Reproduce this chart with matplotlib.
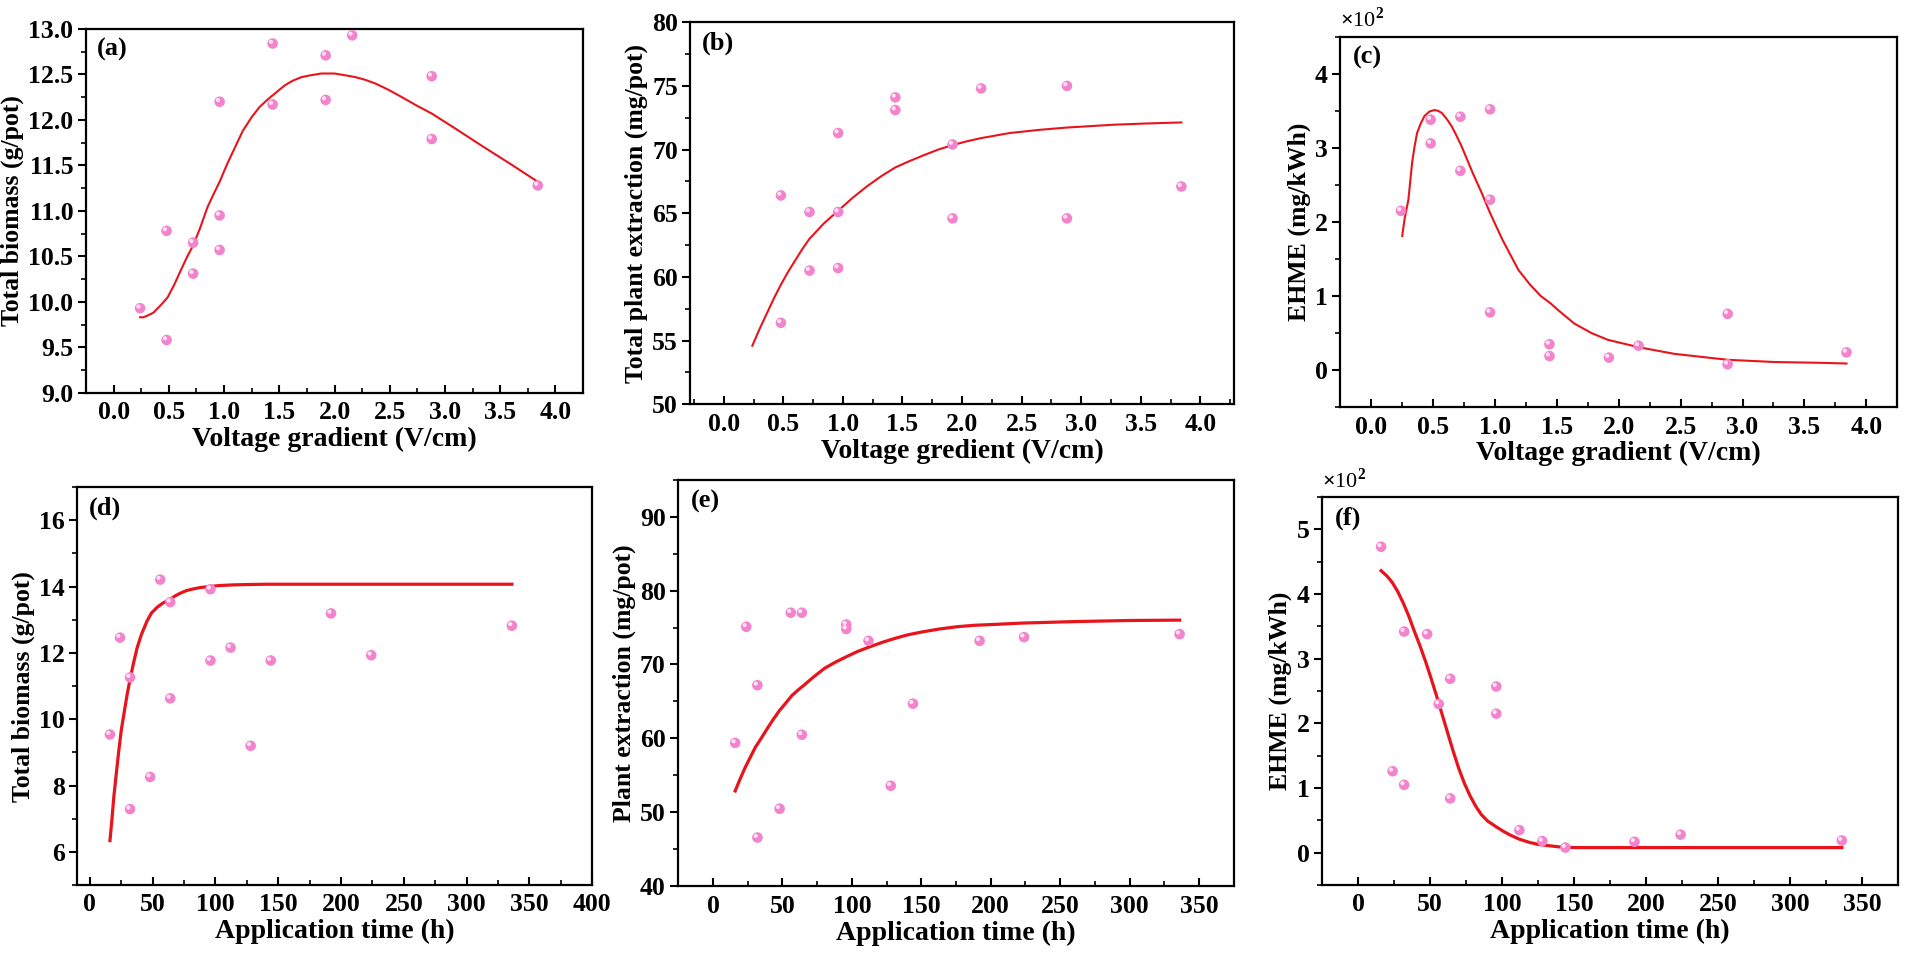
import numpy as np
import matplotlib
matplotlib.use("Agg")
import matplotlib.pyplot as plt
from matplotlib.ticker import MultipleLocator, FormatStrFormatter
from matplotlib.transforms import offset_copy

plt.rcParams['font.family'] = ['Liberation Serif', 'DejaVu Serif']
plt.rcParams['font.weight'] = 'bold'
plt.rcParams['mathtext.fontset'] = 'custom'
plt.rcParams['mathtext.rm'] = 'Liberation Serif'

# ---- (a) voltage gradient vs total biomass
a_x = [0.24, 0.48, 0.48, 0.72, 0.72, 0.96, 0.96, 0.96, 1.44, 1.44, 1.92, 1.92, 2.16, 2.88, 2.88, 3.84]
a_y = [9.93, 10.78, 9.58, 10.65, 10.31, 12.20, 10.95, 10.57, 12.84, 12.17, 12.71, 12.22, 12.93, 12.48, 11.79, 11.28]
a_fit_x = [0.24, 0.27, 0.31, 0.36, 0.40, 0.44, 0.49, 0.55, 0.61, 0.66, 0.72, 0.78, 0.85, 0.90, 0.96, 1.03,
           1.10, 1.17, 1.25, 1.32, 1.40, 1.47, 1.55, 1.62, 1.70, 1.78, 1.88, 2.00, 2.10, 2.19, 2.28,
           2.37, 2.49, 2.61, 2.74, 2.88, 3.10, 3.34, 3.60, 3.84]
a_fit_y = [9.83, 9.83, 9.85, 9.88, 9.93, 9.98, 10.05, 10.19, 10.35, 10.48, 10.62, 10.80, 11.04, 11.17, 11.32, 11.52,
           11.70, 11.88, 12.03, 12.14, 12.23, 12.30, 12.38, 12.43, 12.47, 12.49, 12.51, 12.51, 12.49, 12.47, 12.44,
           12.40, 12.33, 12.25, 12.16, 12.07, 11.90, 11.71, 11.51, 11.32]

# ---- (b) voltage gradient vs total plant extraction
b_x = [0.48, 0.48, 0.72, 0.72, 0.96, 0.96, 0.96, 1.44, 1.44, 1.92, 1.92, 2.16, 2.88, 2.88, 3.84]
b_y = [66.4, 56.4, 65.1, 60.5, 71.3, 65.1, 60.7, 74.1, 73.1, 70.4, 64.6, 74.8, 75.0, 64.6, 67.1]
b_fit_x = [0.24, 0.30, 0.36, 0.42, 0.48, 0.54, 0.60, 0.66, 0.72, 0.84, 0.96, 1.08, 1.20, 1.32, 1.44, 1.56,
           1.69, 1.80, 1.92, 2.04, 2.16, 2.28, 2.40, 2.65, 2.88, 3.27, 3.55, 3.84]
b_fit_y = [54.6, 55.9, 57.1, 58.3, 59.4, 60.4, 61.3, 62.2, 63.0, 64.2, 65.2, 66.2, 67.1, 67.9, 68.6, 69.1,
           69.6, 70.0, 70.35, 70.65, 70.9, 71.1, 71.3, 71.55, 71.73, 71.95, 72.05, 72.13]

# ---- (c) voltage gradient vs EHME (x10^2 mg/kWh)
c_x = [0.24, 0.48, 0.48, 0.72, 0.72, 0.96, 0.96, 0.96, 1.44, 1.44, 1.92, 2.16, 2.88, 2.88, 3.84]
c_y = [2.15, 3.38, 3.06, 3.42, 2.69, 3.52, 2.30, 0.78, 0.35, 0.19, 0.17, 0.33, 0.76, 0.08, 0.24]
c_fit_x = [0.25, 0.27, 0.30, 0.33, 0.35, 0.37, 0.40, 0.43, 0.47, 0.51, 0.54, 0.57, 0.61, 0.65, 0.69, 0.73,
           0.77, 0.82, 0.89, 0.96, 1.01, 1.06, 1.12, 1.19, 1.28, 1.37, 1.45, 1.51, 1.64, 1.78, 1.91, 2.16,
           2.45, 2.88, 3.26, 3.61, 3.84]
c_fit_y = [1.81, 2.05, 2.30, 2.80, 3.02, 3.20, 3.33, 3.43, 3.49, 3.51, 3.50, 3.47, 3.39, 3.29, 3.16, 3.02,
           2.86, 2.66, 2.40, 2.12, 1.94, 1.76, 1.57, 1.35, 1.16, 1.00, 0.90, 0.81, 0.63, 0.50, 0.41, 0.31,
           0.22, 0.14, 0.11, 0.10, 0.09]

# ---- (d) application time vs total biomass
d_x = [16, 24, 32, 32, 48, 56, 64, 64, 96, 96, 112, 128, 144, 192, 224, 336]
d_y = [9.54, 12.46, 11.26, 7.29, 8.26, 14.21, 13.53, 10.63, 13.92, 11.77, 12.16, 9.20, 11.77, 13.19, 11.93, 12.82]
d_fit_x = [16, 17.5, 19, 21, 23, 25, 27.5, 29.7, 32.3, 34.8, 37.6, 41, 45.5, 49, 53.4, 58, 63.5, 68,
           72, 77, 82.5, 88, 95, 103, 114, 125, 141, 200, 336]
d_fit_y = [6.34, 6.95, 7.63, 8.35, 9.04, 9.67, 10.25, 10.75, 11.26, 11.70, 12.15, 12.55, 12.96, 13.20,
           13.37, 13.50, 13.60, 13.72, 13.80, 13.88, 13.93, 13.97, 14.00, 14.03, 14.05, 14.06, 14.07, 14.07, 14.07]

# ---- (e) application time vs plant extraction
e_x = [16, 24, 32, 32, 48, 56, 64, 64, 96, 96, 112, 128, 144, 192, 224, 336]
e_y = [59.4, 75.1, 67.2, 46.6, 50.5, 77.0, 77.0, 60.5, 75.4, 74.8, 73.2, 53.6, 64.7, 73.2, 73.7, 74.1]
e_fit_x = [16, 19.5, 23, 27, 30.5, 35, 39.3, 43.5, 48, 52.5, 56.8, 61, 65.5, 73, 80.5, 88, 95.5, 104,
           113, 122, 130.5, 140, 150.5, 163, 175.5, 188, 200.5, 222.5, 260, 300, 336]
e_fit_y = [52.9, 54.5, 56.0, 57.5, 58.8, 60.1, 61.4, 62.6, 63.8, 64.8, 65.8, 66.5, 67.2, 68.4, 69.5, 70.3,
           71.0, 71.75, 72.4, 73.0, 73.5, 74.0, 74.4, 74.8, 75.1, 75.3, 75.4, 75.6, 75.8, 75.95, 76.0]

# ---- (f) application time vs EHME (x10^2 mg/kWh)
f_x = [16, 24, 32, 32, 48, 56, 64, 64, 96, 96, 112, 128, 144, 192, 224, 336]
f_y = [4.73, 1.26, 3.42, 1.05, 3.38, 2.30, 2.69, 0.84, 2.57, 2.15, 0.35, 0.18, 0.08, 0.17, 0.28, 0.19]
f_fit_x = [16, 20, 23.7, 27.5, 31.4, 35.2, 39, 43, 47, 50.8, 54.6, 58.5, 62.4, 66.2, 70, 73.9, 77.8,
           81.7, 85.6, 90, 96, 101, 106, 112, 119, 125, 132, 140, 150, 200, 336]
f_fit_y = [4.36, 4.28, 4.18, 4.04, 3.86, 3.66, 3.43, 3.20, 2.95, 2.69, 2.42, 2.13, 1.84, 1.56, 1.30, 1.07, 0.88,
           0.72, 0.59, 0.49, 0.40, 0.33, 0.27, 0.21, 0.16, 0.13, 0.11, 0.09, 0.08, 0.08, 0.08]

panels = [
    dict(pos=[0.0447, 0.593, 0.2585, 0.377], x=a_x, y=a_y, fx=a_fit_x, fy=a_fit_y, lw=1.5,
         xlim=(-0.25, 4.25), ylim=(9.0, 13.0), xmaj=0.5, ymaj=0.5, xfmt='%.1f', yfmt='%.1f',
         xlabel='Voltage gradient (V/cm)', ylabel='Total biomass (g/pot)', tag='(a)', scale=False),
    dict(pos=[0.359, 0.581, 0.2826, 0.396], x=b_x, y=b_y, fx=b_fit_x, fy=b_fit_y, lw=1.5,
         xlim=(-0.28, 4.28), ylim=(50, 80), xmaj=0.5, ymaj=5, xfmt='%.1f', yfmt='%d',
         xlabel='Voltage gredient (V/cm)', ylabel='Total plant extraction (mg/pot)', tag='(b)', scale=False),
    dict(pos=[0.697, 0.578, 0.2896, 0.384], x=c_x, y=c_y, fx=c_fit_x, fy=c_fit_y, lw=1.5,
         xlim=(-0.25, 4.25), ylim=(-0.5, 4.5), xmaj=0.5, ymaj=1, xfmt='%.1f', yfmt='%d',
         xlabel='Voltage gradient (V/cm)', ylabel='EHME (mg/kWh)', tag='(c)', scale=True),
    dict(pos=[0.0402, 0.0828, 0.2678, 0.4125], x=d_x, y=d_y, fx=d_fit_x, fy=d_fit_y, lw=2.3,
         xlim=(-10, 400), ylim=(5, 17), xmaj=50, ymaj=2, xfmt='%d', yfmt='%d',
         xlabel='Application time (h)', ylabel='Total biomass (g/pot)', tag='(d)', scale=False),
    dict(pos=[0.3527, 0.0815, 0.2889, 0.4215], x=e_x, y=e_y, fx=e_fit_x, fy=e_fit_y, lw=2.3,
         xlim=(-25, 375), ylim=(40, 95), xmaj=50, ymaj=10, xfmt='%d', yfmt='%d',
         xlabel='Application time (h)', ylabel='Plant extraction (mg/pot)', tag='(e)', scale=False),
    dict(pos=[0.6875, 0.0828, 0.2995, 0.4022], x=f_x, y=f_y, fx=f_fit_x, fy=f_fit_y, lw=2.3,
         xlim=(-25, 375), ylim=(-0.5, 5.5), xmaj=50, ymaj=1, xfmt='%d', yfmt='%d',
         xlabel='Application time (h)', ylabel='EHME (mg/kWh)', tag='(f)', scale=True),
]

fig = plt.figure(figsize=(19.23, 9.65), dpi=100)

for p in panels:
    ax = fig.add_axes(p['pos'])
    ax.plot(p['fx'], p['fy'], color='#e8141c', lw=p['lw'], zorder=2, solid_joinstyle='round')
    # sphere-like markers: pink body plus a small light highlight
    ax.scatter(p['x'], p['y'], s=58, color='#f283cc', edgecolors='none', zorder=3)
    hl = offset_copy(ax.transData, fig=fig, x=-1.2, y=1.2, units='points')
    ax.scatter(p['x'], p['y'], s=9, color='#ffe3f5', edgecolors='none', zorder=4, transform=hl)

    ax.set_xlim(*p['xlim'])
    ax.set_ylim(*p['ylim'])
    ax.xaxis.set_major_locator(MultipleLocator(p['xmaj']))
    ax.xaxis.set_minor_locator(MultipleLocator(p['xmaj'] / 2))
    ax.yaxis.set_major_locator(MultipleLocator(p['ymaj']))
    ax.yaxis.set_minor_locator(MultipleLocator(p['ymaj'] / 2))
    ax.xaxis.set_major_formatter(FormatStrFormatter(p['xfmt']))
    ax.yaxis.set_major_formatter(FormatStrFormatter(p['yfmt']))
    ax.tick_params(axis='x', which='both', direction='in', top=False, labelsize=18.5, pad=6)
    ax.tick_params(axis='y', which='both', direction='out', right=False, labelsize=18.5, pad=3)
    ax.tick_params(which='major', length=6, width=1.5)
    ax.tick_params(which='minor', length=3.5, width=1.2)
    for sp in ax.spines.values():
        sp.set_linewidth(1.6)
    ax.set_xlabel(p['xlabel'], fontsize=20, fontweight='bold', labelpad=2)
    ax.set_ylabel(p['ylabel'], fontsize=18.5, fontweight='bold', labelpad=3)
    ax.text(0.022, 0.975, p['tag'], transform=ax.transAxes, fontsize=19, fontweight='bold',
            ha='left', va='top')
    if p['scale']:
        ax.text(0.0, 1.012, r'$\times$10$^{2}$', transform=ax.transAxes, fontsize=16,
                fontweight='normal', ha='left', va='bottom')

fig.savefig('out.png', dpi=100)
